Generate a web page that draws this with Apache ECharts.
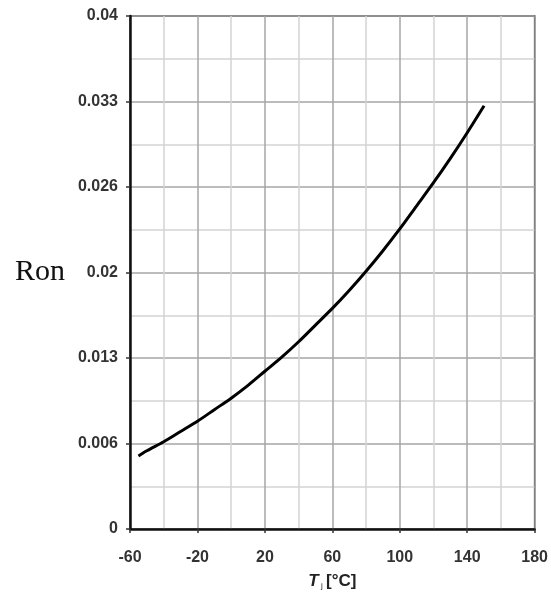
<!DOCTYPE html>
<html>
<head>
<meta charset="utf-8">
<script src="https://cdn.jsdelivr.net/npm/echarts@6/dist/echarts.min.js"></script>
<style>
html,body{margin:0;padding:0;background:#fff;}
#chart{width:551px;height:602px;}
</style>
</head>
<body>
<div id="chart"></div>
<script>
// Junction temperature Tj [°C]
var temps = [-55, -50, -40, -30, -20, -10, 0, 10, 20, 30, 40, 50, 60, 70, 80, 90, 100, 110, 120, 130, 140, 150];
// Ron values
var ron = [0.0057, 0.0061, 0.0068, 0.0076, 0.0084, 0.0093, 0.0102, 0.0112, 0.0123, 0.0134, 0.0146, 0.0159,
           0.0172, 0.0186, 0.0201, 0.0217, 0.0234, 0.0252, 0.0270, 0.0289, 0.0309, 0.0330];
// Y tick labels as printed
var yTickLabels = ['0', '0.006', '0.013', '0.02', '0.026', '0.033', '0.04'];
var xMin = -60, xMax = 180, xStep = 40;
var yMax = 0.04, yStep = 0.04 / 6;

var seriesData = temps.map(function (t, i) { return [t, ron[i]]; });

var chart = echarts.init(document.getElementById('chart'), null, {renderer: 'canvas'});
var labelFont = {fontFamily: 'Liberation Sans, Arial, sans-serif', fontWeight: 'bold', fontSize: 16, color: '#333'};

chart.setOption({
  backgroundColor: '#ffffff',
  animation: false,
  grid: {left: 130, top: 16, right: 15, bottom: 73, show: true, borderColor: '#111', borderWidth: 1.5, backgroundColor: 'transparent'},
  xAxis: {
    type: 'value', min: xMin, max: xMax, interval: xStep,
    axisLine: {show: true, onZero: false, lineStyle: {color: '#111', width: 2.5}},
    axisTick: {show: true, length: 4, lineStyle: {color: '#333', width: 1.5}},
    axisLabel: Object.assign({margin: 21}, labelFont),
    splitLine: {show: true, lineStyle: {color: '#a6a6a6', width: 1.5}},
    minorTick: {show: false, splitNumber: 2},
    minorSplitLine: {show: true, lineStyle: {color: '#d4d4d4', width: 1.5}},
    name: '{t|T}{s| j} {n|[°C]}',
    nameLocation: 'middle', nameGap: 43,
    nameTextStyle: {
      rich: {
        t: {fontFamily: 'Liberation Sans, Arial, sans-serif', fontWeight: 'bold', fontStyle: 'italic', fontSize: 17, color: '#222'},
        s: {fontFamily: 'Liberation Sans, Arial, sans-serif', fontSize: 8, color: '#222', padding: [10, 0, 0, 0]},
        n: {fontFamily: 'Liberation Sans, Arial, sans-serif', fontWeight: 'bold', fontSize: 17, color: '#222'}
      }
    }
  },
  yAxis: {
    type: 'value', min: 0, max: yMax, interval: yStep,
    axisLine: {show: true, onZero: false, lineStyle: {color: '#111', width: 2.5}},
    axisTick: {show: true, length: 4, lineStyle: {color: '#333', width: 1.5}},
    axisLabel: Object.assign({
      margin: 12,
      formatter: function (v) { return yTickLabels[Math.round(v / yStep)]; }
    }, labelFont),
    splitLine: {show: true, lineStyle: {color: '#a6a6a6', width: 1.5}},
    minorTick: {show: false, splitNumber: 2},
    minorSplitLine: {show: true, lineStyle: {color: '#d4d4d4', width: 1.5}},
    name: 'Ron',
    nameLocation: 'middle', nameRotate: 0, nameGap: 65,
    nameTextStyle: {fontFamily: 'Liberation Serif, Times New Roman, serif', fontSize: 30, color: '#111'}
  },
  series: [{
    type: 'line',
    data: seriesData,
    smooth: 0.3,
    showSymbol: false,
    lineStyle: {color: '#000', width: 3},
    z: 5
  }]
});
</script>
</body>
</html>
